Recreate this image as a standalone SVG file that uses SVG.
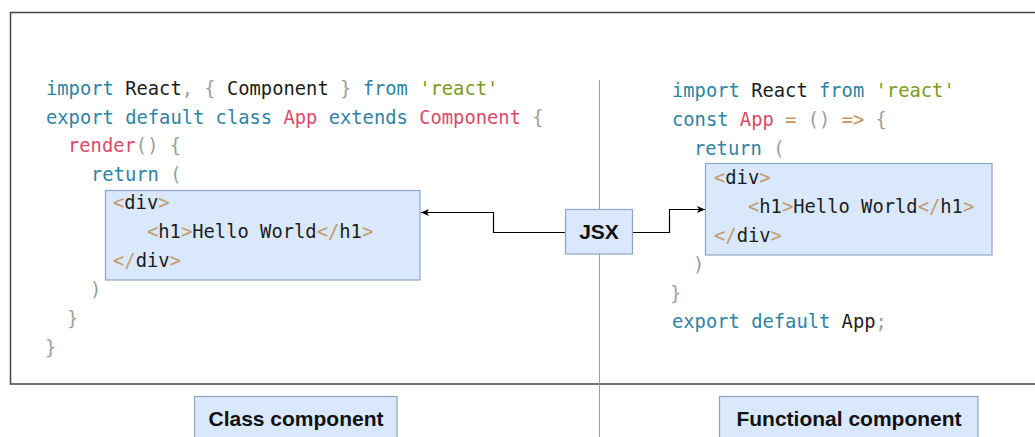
<svg xmlns="http://www.w3.org/2000/svg" width="1035" height="437" viewBox="0 0 1035 437">
  <defs>
    <style>
      .code { font-family: "DejaVu Sans Mono", "Liberation Mono", monospace; font-size: 18.8px; fill: #1c1c1c; white-space: pre; }
      .kw { fill: #2f83a3; }
      .nm { fill: #d94a6b; }
      .str { fill: #7c9a1f; }
      .pn { fill: #9c9c9c; }
      .tg { fill: #c29a6c; }
      .op { fill: #c8935a; }
      .box { fill: #dae8fc; stroke: #8ea6c6; stroke-width: 1.2; }
      .label { font-family: "Liberation Sans", Arial, sans-serif; font-weight: bold; font-size: 21px; fill: #111; text-anchor: middle; }
      .edge { fill: none; stroke: #000; stroke-width: 1.2; }
    </style>
    <marker id="arrow" markerWidth="10" markerHeight="8" refX="8" refY="4" orient="auto" markerUnits="userSpaceOnUse">
      <path d="M0,0.5 L8,4 L0,7.5 L2,4 z" fill="#000"/>
    </marker>
  </defs>

  <rect width="1035" height="437" fill="#fff"/>

  <!-- outer frame (right side runs off the canvas) -->
  <rect id="frame" x="10.5" y="12.5" width="1040" height="371.5" fill="none" stroke="#444" stroke-width="1.5"/>

  <!-- divider between the two versions -->
  <line id="divider" x1="599.5" y1="80" x2="599.5" y2="437" stroke="#8fa0b5" stroke-width="1"/>

  <!-- class component source -->
  <g id="class-code">
    <text class="code" x="46" y="95" xml:space="preserve"><tspan class="kw">import</tspan> React<tspan class="pn">,</tspan> <tspan class="pn">{</tspan> Component <tspan class="pn">}</tspan> <tspan class="kw">from</tspan> <tspan class="str">'react'</tspan></text>
    <text class="code" x="46" y="123.5" xml:space="preserve"><tspan class="kw">export default class</tspan> <tspan class="nm">App</tspan> <tspan class="kw">extends</tspan> <tspan class="nm">Component</tspan> <tspan class="pn">{</tspan></text>
    <text class="code" x="68" y="152" xml:space="preserve"><tspan class="nm">render</tspan><tspan class="pn">()</tspan> <tspan class="pn">{</tspan></text>
    <text class="code" x="91" y="180.5" xml:space="preserve"><tspan class="kw">return</tspan> <tspan class="pn">(</tspan></text>
    <text class="code" x="90" y="296" xml:space="preserve"><tspan class="pn">)</tspan></text>
    <text class="code" x="67" y="325" xml:space="preserve"><tspan class="pn">}</tspan></text>
    <text class="code" x="45" y="353.5" xml:space="preserve"><tspan class="pn">}</tspan></text>
  </g>

  <!-- JSX block inside the class render -->
  <g id="class-jsx">
    <rect class="box" x="105.5" y="190.5" width="314.5" height="89.5"/>
    <text class="code" x="113" y="209" xml:space="preserve"><tspan class="tg">&lt;</tspan>div<tspan class="tg">&gt;</tspan></text>
    <text class="code" x="147" y="238" xml:space="preserve"><tspan class="tg">&lt;</tspan>h1<tspan class="tg">&gt;</tspan>Hello World<tspan class="tg">&lt;/</tspan>h1<tspan class="tg">&gt;</tspan></text>
    <text class="code" x="113" y="267" xml:space="preserve"><tspan class="tg">&lt;/</tspan>div<tspan class="tg">&gt;</tspan></text>
  </g>

  <!-- functional component source -->
  <g id="functional-code">
    <text class="code" x="672" y="97" xml:space="preserve"><tspan class="kw">import</tspan> React <tspan class="kw">from</tspan> <tspan class="str">'react'</tspan></text>
    <text class="code" x="672" y="126" xml:space="preserve"><tspan class="kw">const</tspan> <tspan class="nm">App</tspan> <tspan class="op">=</tspan> <tspan class="pn">()</tspan> <tspan class="op">=&gt;</tspan> <tspan class="pn">{</tspan></text>
    <text class="code" x="694" y="155" xml:space="preserve"><tspan class="kw">return</tspan> <tspan class="pn">(</tspan></text>
    <text class="code" x="693" y="271" xml:space="preserve"><tspan class="pn">)</tspan></text>
    <text class="code" x="670" y="300" xml:space="preserve"><tspan class="pn">}</tspan></text>
    <text class="code" x="672" y="328" xml:space="preserve"><tspan class="kw">export default</tspan> App<tspan class="pn">;</tspan></text>
  </g>

  <!-- JSX block inside the arrow function -->
  <g id="functional-jsx">
    <rect class="box" x="705.5" y="163.5" width="286.5" height="91.5"/>
    <text class="code" x="714" y="184" xml:space="preserve"><tspan class="tg">&lt;</tspan>div<tspan class="tg">&gt;</tspan></text>
    <text class="code" x="748" y="213" xml:space="preserve"><tspan class="tg">&lt;</tspan>h1<tspan class="tg">&gt;</tspan>Hello World<tspan class="tg">&lt;/</tspan>h1<tspan class="tg">&gt;</tspan></text>
    <text class="code" x="714" y="242" xml:space="preserve"><tspan class="tg">&lt;/</tspan>div<tspan class="tg">&gt;</tspan></text>
  </g>

  <!-- JSX node -->
  <g id="jsx">
    <rect class="box" x="565.5" y="209.5" width="67" height="44.5"/>
    <text class="label" x="599" y="239">JSX</text>
  </g>

  <!-- connectors -->
  <g id="connectors">
    <path class="edge" d="M565,232.5 H493.5 V212.5 H421" marker-end="url(#arrow)"/>
    <path class="edge" d="M633,232.5 H669.5 V209.5 H705" marker-end="url(#arrow)"/>
  </g>

  <!-- captions -->
  <g id="class-label">
    <rect class="box" x="194.5" y="396.5" width="202.5" height="45"/>
    <text class="label" x="296" y="426">Class component</text>
  </g>
  <g id="functional-label">
    <rect class="box" x="719.5" y="396.5" width="258.5" height="45"/>
    <text class="label" x="849" y="426">Functional component</text>
  </g>
</svg>
